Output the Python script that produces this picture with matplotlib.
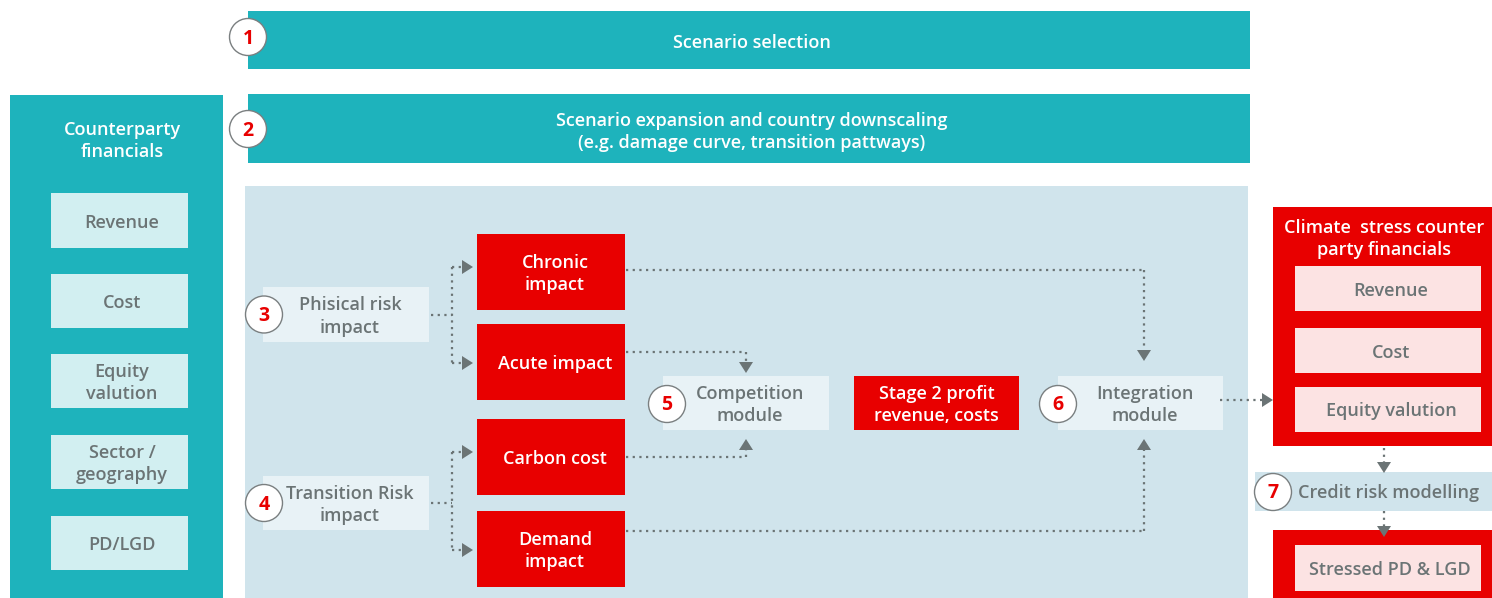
import matplotlib
matplotlib.use("Agg")
import matplotlib.pyplot as plt
from matplotlib.patches import Rectangle, Circle, Polygon

# ---- content ----
steps = ["1", "2", "3", "4", "5", "6", "7"]
top_labels = ["Scenario selection",
              "Scenario expansion and country downscaling\n(e.g. damage curve, transition pattways)"]
left_title = "Counterparty\nfinancials"
left_items = ["Revenue", "Cost", "Equity\nvalution", "Sector /\ngeography", "PD/LGD"]
risk_labels = ["Phisical risk\nimpact", "Transition Risk\nimpact"]
impact_labels = ["Chronic\nimpact", "Acute impact", "Carbon cost", "Demand\nimpact"]
module_labels = ["Competition\nmodule", "Stage 2 profit\nrevenue, costs", "Integration\nmodule"]
right_title = "Climate  stress counter\nparty financials"
right_items = ["Revenue", "Cost", "Equity valution"]
credit_label = "Credit risk modelling"
final_label = "Stressed PD & LGD"

# ---- style ----
TEAL = "#1EB3BC"
TEAL_LIGHT = "#D2EFF1"
PANEL = "#D0E4EC"
BOX_LIGHT = "#E8F2F6"
RED = "#E80000"
PINK = "#FCE3E3"
GRAY = "#6B7475"
FONT = ["Open Sans", "DejaVu Sans"]
FS = 13.0
WEIGHT = 600

W, H = 1492, 598
fig = plt.figure(figsize=(W / 100, H / 100), dpi=100)
ax = fig.add_axes([0, 0, 1, 1])
ax.set_xlim(0, W)
ax.set_ylim(H, 0)
ax.axis("off")


def rect(x0, y0, x1, y1, color, z=1):
    ax.add_patch(Rectangle((x0, y0), x1 - x0, y1 - y0, facecolor=color,
                           edgecolor="none", zorder=z))


def text(x, y, s, color, size=FS, weight=WEIGHT, z=5):
    ax.text(x, y + 2, s, color=color, fontsize=size, fontweight=weight,
            ha="center", va="center", family=FONT, linespacing=1.3, zorder=z)


def badge(x, y, label):
    ax.add_patch(Circle((x, y), 18.5, facecolor="white", edgecolor="#7A7F80",
                        linewidth=1.0, zorder=6))
    text(x, y - 0.5, label, RED, size=14, weight="bold", z=7)


def dotted(xs, ys):
    ax.plot(xs, ys, color=GRAY, linestyle=(0, (1, 2)), linewidth=1.6,
            zorder=4, solid_capstyle="butt")


def arrow(x, y, direction):
    s = 11  # length
    h = 7   # half width
    if direction == "right":
        pts = [(x, y - h), (x, y + h), (x + s, y)]
    elif direction == "down":
        pts = [(x - h, y), (x + h, y), (x, y + s)]
    else:  # up
        pts = [(x - h, y), (x + h, y), (x, y - s)]
    ax.add_patch(Polygon(pts, closed=True, facecolor=GRAY, edgecolor="none",
                         zorder=5))


# top bars
rect(248, 11, 1250, 69, TEAL)
text(752, 41, top_labels[0], "white")
badge(248, 37, steps[0])
rect(248, 94, 1250, 163, TEAL)
text(752, 130, top_labels[1], "white")
badge(248, 129, steps[1])

# left panel
rect(10, 95, 223, 598, TEAL)
text(122, 139, left_title, "white")
left_y = [(193, 248), (274, 328), (354, 408), (435, 489), (516, 570)]
for (y0, y1), lab in zip(left_y, left_items):
    rect(51, y0, 188, y1, TEAL_LIGHT, z=2)
    text(122, (y0 + y1) / 2, lab, GRAY)

# main panel
rect(245, 186, 1248, 598, PANEL)

# risk boxes
risk_y = [(287, 342), (476, 530)]
for i, ((y0, y1), lab) in enumerate(zip(risk_y, risk_labels)):
    rect(263, y0, 429, y1, BOX_LIGHT, z=2)
    text(350, (y0 + y1) / 2, lab, GRAY)
    badge(264, (y0 + y1) / 2, steps[2 + i])

# impact boxes
imp_y = [(234, 310), (324, 400), (419, 495), (511, 587)]
for (y0, y1), lab in zip(imp_y, impact_labels):
    rect(477, y0, 625, y1, RED, z=2)
    text(555, (y0 + y1) / 2, lab, "white")

# risk -> impact connectors
for (ry0, ry1), (ia, ib) in zip(risk_y, [(0, 1), (2, 3)]):
    ym = (ry0 + ry1) / 2
    ya = (imp_y[ia][0] + imp_y[ia][1]) / 2 - 5
    yb = (imp_y[ib][0] + imp_y[ib][1]) / 2 + 1
    dotted([431, 452], [ym, ym])
    dotted([452, 452], [ya, yb])
    dotted([452, 462], [ya, ya])
    dotted([452, 462], [yb, yb])
    arrow(462, ya, "right")
    arrow(462, yb, "right")

# module boxes
mod_x = [(663, 829), (854, 1019), (1058, 1223)]
mod_col = [BOX_LIGHT, RED, BOX_LIGHT]
mod_txt = [GRAY, "white", GRAY]
for (x0, x1), c, tc, lab in zip(mod_x, mod_col, mod_txt, module_labels):
    rect(x0, 376, x1, 430, c, z=2)
    text((x0 + x1) / 2 + (4 if c == BOX_LIGHT else 0), 403, lab, tc)
badge(667, 404, steps[4])
badge(1058, 404, steps[5])

# impact -> modules
dotted([626, 1144], [270, 270]); dotted([1144, 1144], [270, 350]); arrow(1144, 350, "down")
dotted([626, 746], [352, 352]); dotted([746, 746], [352, 362]); arrow(746, 362, "down")
dotted([626, 746], [457, 457]); dotted([746, 746], [457, 450]); arrow(746, 450, "up")
dotted([626, 1144], [531, 531]); dotted([1144, 1144], [531, 450]); arrow(1144, 450, "up")

# integration -> right
dotted([1220, 1262], [400, 400]); arrow(1262, 400, "right")

# right red box
rect(1273, 207, 1492, 446, RED)
text(1384, 237, right_title, "white")
right_y = [(266, 311), (328, 373), (387, 432)]
for (y0, y1), lab in zip(right_y, right_items):
    rect(1295, y0, 1481, y1, PINK, z=2)
    text(1391, (y0 + y1) / 2, lab, GRAY)

dotted([1384, 1384], [448, 462]); arrow(1384, 462, "down")

# credit risk bar
rect(1255, 472, 1492, 511, PANEL)
text(1389, 491, credit_label, GRAY)
badge(1273, 492, steps[6])

dotted([1384, 1384], [511, 526]); arrow(1384, 526, "down")

# final box
rect(1273, 530, 1492, 598, RED)
rect(1295, 545, 1481, 591, PINK, z=2)
text(1390, 568, final_label, GRAY)

fig.savefig("out.png", dpi=100)
